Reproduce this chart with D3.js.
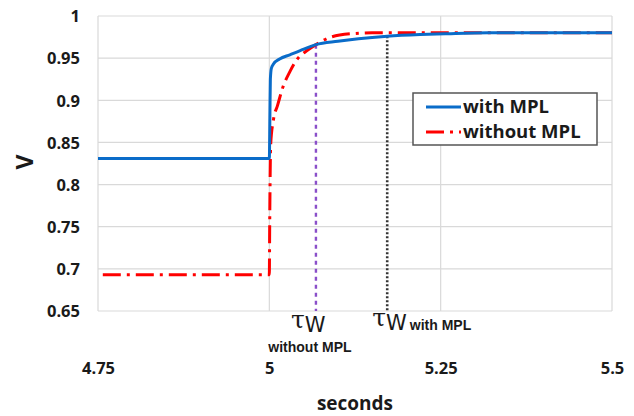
<!DOCTYPE html>
<html>
<head>
<meta charset="utf-8">
<script src="https://cdn.jsdelivr.net/npm/d3@7"></script>
<style>
  body { margin: 0; background: #fff; }
  svg { display: block; }
  .tick-label { font-family: "Open Sans", sans-serif; font-weight: bold; font-size: 16.5px; fill: #1a1a1a; }
</style>
</head>
<body>
<svg id="chart" width="634" height="416"></svg>
<script>
// Data
const xTicks = [4.75, 5, 5.25, 5.5];
const yTicks = [0.65, 0.7, 0.75, 0.8, 0.85, 0.9, 0.95, 1];

const withT = [4.75, 5.0, 5.0008, 5.0015, 5.003, 5.006, 5.015, 5.03, 5.045, 5.068, 5.1, 5.13, 5.172, 5.22, 5.26, 5.32, 5.4, 5.5];
const withV = [0.831, 0.831, 0.88, 0.925, 0.938, 0.943, 0.949, 0.954, 0.959, 0.966, 0.970, 0.973, 0.976, 0.978, 0.979, 0.980, 0.980, 0.980];

const withoutT = [4.757, 5.0, 5.0005, 5.002, 5.006, 5.012, 5.02, 5.03, 5.04, 5.055, 5.068, 5.09, 5.12, 5.15, 5.2, 5.3, 5.4, 5.5];
const withoutV = [0.693, 0.693, 0.75, 0.848, 0.877, 0.894, 0.916, 0.934, 0.948, 0.959, 0.966, 0.975, 0.979, 0.980, 0.980, 0.980, 0.980, 0.980];

const tauWithout = 5.068;
const tauWith = 5.172;

const margin = { left: 98, right: 22, top: 16, bottom: 105 };
const width = 634, height = 416;

const svg = d3.select('#chart');

const x = d3.scaleLinear().domain([4.75, 5.5]).range([margin.left, width - margin.right]);
const y = d3.scaleLinear().domain([0.65, 1]).range([height - margin.bottom, margin.top]);

// Grid lines
svg.append('g')
    .selectAll('line')
    .data(yTicks)
    .enter().append('line')
    .attr('x1', x(4.75)).attr('x2', x(5.5))
    .attr('y1', d => y(d)).attr('y2', d => y(d))
    .attr('stroke', '#d9d9d9').attr('stroke-width', 1.2);

svg.append('g')
    .selectAll('line')
    .data(xTicks)
    .enter().append('line')
    .attr('x1', d => x(d)).attr('x2', d => x(d))
    .attr('y1', y(0.65)).attr('y2', y(1))
    .attr('stroke', '#d9d9d9').attr('stroke-width', 1.2);

// Y axis labels
const fmt = d3.format('~g');
const yAxis = d3.axisLeft(y).tickValues(yTicks).tickSize(0).tickPadding(18).tickFormat(fmt);
svg.append('g')
    .attr('transform', `translate(${margin.left},0)`)
    .call(yAxis)
    .call(g => g.select('.domain').remove())
    .selectAll('text').attr('class', 'tick-label').attr('dy', '0.35em');

// X axis labels, placed well below the plot
const xAxis = d3.axisBottom(x).tickValues(xTicks).tickSize(0).tickPadding(0).tickFormat(fmt);
svg.append('g')
    .attr('transform', `translate(0,${y(0.65) + 51})`)
    .call(xAxis)
    .call(g => g.select('.domain').remove())
    .selectAll('text').attr('class', 'tick-label').attr('dy', '0.7em');

// Axis titles
svg.append('text')
    .attr('x', (x(4.75) + x(5.5)) / 2)
    .attr('y', 410)
    .attr('text-anchor', 'middle')
    .attr('class', 'tick-label')
    .style('font-size', '19px')
    .text('seconds');

svg.append('text')
    .attr('transform', 'translate(33,162) rotate(-90)')
    .attr('text-anchor', 'middle')
    .style('font-family', '"Open Sans", sans-serif')
    .style('font-weight', 'bold')
    .style('font-size', '23px')
    .attr('fill', '#1a1a1a')
    .text('V');

// Tau marker lines
svg.append('line')
    .attr('x1', x(tauWithout)).attr('x2', x(tauWithout))
    .attr('y1', y(0.966)).attr('y2', y(0.65))
    .attr('stroke', '#8a4fc9').attr('stroke-width', 2.4)
    .attr('stroke-dasharray', '4,4');

svg.append('line')
    .attr('x1', x(tauWith)).attr('x2', x(tauWith))
    .attr('y1', y(0.976)).attr('y2', y(0.65))
    .attr('stroke', '#333').attr('stroke-width', 2.6)
    .attr('stroke-dasharray', '2,2');

// Curves
const line = d3.line()
    .x(d => x(d[0]))
    .y(d => y(d[1]))
    .curve(d3.curveMonotoneX);

const withoutData = withoutT.map((t, i) => [t, withoutV[i]]);
const withData = withT.map((t, i) => [t, withV[i]]);

svg.append('path')
    .datum(withoutData)
    .attr('d', line)
    .attr('fill', 'none')
    .attr('stroke', '#ff0000')
    .attr('stroke-width', 3)
    .attr('stroke-dasharray', '18,6,3,6');

svg.append('path')
    .datum(withData)
    .attr('d', line)
    .attr('fill', 'none')
    .attr('stroke', '#0a6cc9')
    .attr('stroke-width', 3);

// Tau labels
function tauLabel(px, py, sub) {
    const t = svg.append('text')
        .attr('x', px).attr('y', py)
        .style('font-family', '"DejaVu Serif", serif')
        .attr('fill', '#1a1a1a');
    t.append('tspan').style('font-size', '25px').text('τ');
    t.append('tspan').style('font-size', '21px').attr('dy', 4)
        .style('font-family', '"DejaVu Sans", sans-serif').text('W');
    if (sub) {
        t.append('tspan').attr('dx', 3)
            .style('font-family', '"Liberation Sans", Arial, sans-serif')
            .style('font-weight', 'bold').style('font-size', '14px')
            .text(sub);
    }
}
tauLabel(x(tauWithout) - 25, 328, null);
tauLabel(x(tauWith) - 15, 326, 'with MPL');

svg.append('text')
    .attr('x', x(tauWithout) - 6)
    .attr('y', 352)
    .attr('text-anchor', 'middle')
    .style('font-family', '"Liberation Sans", Arial, sans-serif')
    .style('font-weight', 'bold').style('font-size', '14px')
    .attr('fill', '#1a1a1a')
    .text('without MPL');

// Legend
const legend = svg.append('g').attr('transform', 'translate(413,93)');
legend.append('rect')
    .attr('width', 184).attr('height', 52)
    .attr('fill', '#fff').attr('stroke', '#555').attr('stroke-width', 1.5);

const legendItems = [
    { label: 'with MPL', color: '#0a6cc9', dash: null },
    { label: 'without MPL', color: '#ff0000', dash: '18,6,3,6' }
];
legendItems.forEach((item, i) => {
    const yy = 14 + i * 25;
    legend.append('line')
        .attr('x1', 13).attr('x2', 48)
        .attr('y1', yy).attr('y2', yy)
        .attr('stroke', item.color).attr('stroke-width', 3)
        .attr('stroke-dasharray', item.dash);
    legend.append('text')
        .attr('x', 50).attr('y', yy)
        .attr('dy', '0.35em')
        .style('font-family', '"Open Sans", sans-serif')
        .style('font-weight', 'bold').style('font-size', '18.5px')
        .attr('fill', '#1a1a1a')
        .text(item.label);
});
</script>
</body>
</html>
